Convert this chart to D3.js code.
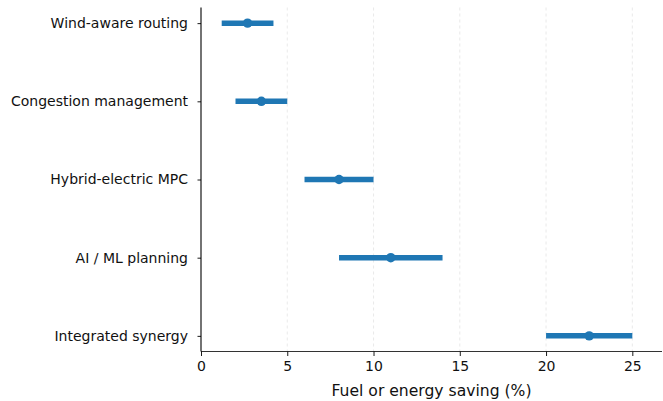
<!DOCTYPE html>
<html>
<head>
<meta charset="utf-8">
<script src="https://cdn.jsdelivr.net/npm/d3@7"></script>
<style>
  body { margin: 0; background: #fff; }
  svg { display: block; font-family: "DejaVu Sans", sans-serif; }
</style>
</head>
<body>
<svg id="chart" width="663" height="401"></svg>
<script>
// data
var categories = ["Wind-aware routing", "Congestion management", "Hybrid-electric MPC", "AI / ML planning", "Integrated synergy"];
var lowValues  = [1.2, 2, 6, 8, 20];
var highValues = [4.2, 5, 10, 14, 25];
var midValues  = [2.7, 3.5, 8, 11, 22.5];
var xTicks = [0, 5, 10, 15, 20, 25];

var svg = d3.select('#chart');
var m = {left: 201, right: 662, top: 7.5, bottom: 351.5};
var color = '#1f77b4';

var x = d3.scaleLinear().domain([0, 26.72]).range([m.left, m.right]);
var y = d3.scaleLinear().domain([-0.2, 4.2]).range([m.top, m.bottom]);

//dashed grid
svg.append('g').selectAll('line')
    .data(xTicks.slice(1))
    .enter().append('line')
    .attr('x1', function(d){ return x(d); })
    .attr('x2', function(d){ return x(d); })
    .attr('y1', m.top).attr('y2', m.bottom)
    .attr('stroke', '#b0b0b0').attr('stroke-opacity', 0.35)
    .attr('stroke-width', 0.8).attr('stroke-dasharray', '3,3');

//range bars
svg.append('g').selectAll('line')
    .data(categories)
    .enter().append('line')
    .attr('x1', function(d, i){ return x(lowValues[i]); })
    .attr('x2', function(d, i){ return x(highValues[i]); })
    .attr('y1', function(d, i){ return y(i); })
    .attr('y2', function(d, i){ return y(i); })
    .attr('stroke', color).attr('stroke-width', 5.5);

//midpoints
svg.append('g').selectAll('circle')
    .data(categories)
    .enter().append('circle')
    .attr('cx', function(d, i){ return x(midValues[i]); })
    .attr('cy', function(d, i){ return y(i); })
    .attr('r', 4.7)
    .attr('fill', color);

//axes
var xAxis = d3.axisBottom(x).tickValues(xTicks).tickSize(4.5).tickPadding(5);
var gx = svg.append('g').attr('transform', 'translate(0,' + m.bottom + ')').call(xAxis);
gx.select('.domain').attr('d', 'M' + m.left + ',0H' + m.right).attr('stroke', '#333').attr('stroke-width', 1.1);

var yAxis = d3.axisLeft(y).tickValues([0, 1, 2, 3, 4])
    .tickFormat(function(d){ return categories[d]; })
    .tickSize(3.5).tickPadding(9.5);
var gy = svg.append('g').attr('transform', 'translate(' + m.left + ',0)').call(yAxis);
gy.select('.domain').attr('d', 'M0,' + m.top + 'V' + m.bottom).attr('stroke', '#000').attr('stroke-width', 1.1);

svg.selectAll('.tick line').attr('stroke', '#000').attr('stroke-width', 0.9);
svg.selectAll('.tick text').attr('fill', '#111')
    .style('font-size', '14px').style('font-family', '"DejaVu Sans", sans-serif');

svg.append('text')
    .attr('x', (m.left + m.right) / 2)
    .attr('y', 396)
    .attr('text-anchor', 'middle')
    .style('font-size', '15.6px')
    .attr('fill', '#111')
    .text('Fuel or energy saving (%)');
</script>
</body>
</html>
